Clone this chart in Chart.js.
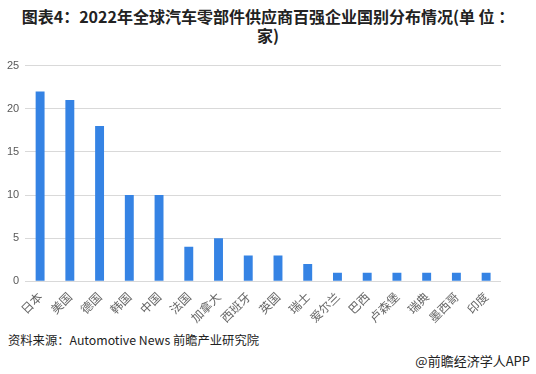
<!DOCTYPE html>
<html>
<head>
<meta charset="utf-8">
<script src="https://cdn.jsdelivr.net/npm/chart.js@4.4.1/dist/chart.umd.min.js"></script>
<style>
  body { margin: 0; background: #fff; font-family: "Noto Sans CJK SC", "Liberation Sans", sans-serif; }
  #wrap { position: relative; width: 536px; height: 374px; }
  #title { position: absolute; left: 0; top: 7px; width: 536px; text-align: center; font-size: 16px; font-weight: bold; line-height: 19px; color: #222; }
  #chartBox { position: absolute; left: 1px; top: 53px; width: 500px; height: 272px; }
  #source { position: absolute; left: 8px; top: 331px; font-size: 12.3px; color: #222; }
  #brand { position: absolute; right: 6px; top: 351px; font-size: 13px; color: #222; }
</style>
</head>
<body>
<div id="wrap">
  <div id="title">图表4：2022年全球汽车零部件供应商百强企业国别分布情况(单 位 ：<br>家)</div>
  <div id="chartBox"><canvas id="barChart"></canvas></div>
  <div id="source">资料来源：Automotive News 前瞻产业研究院</div>
  <div id="brand">@前瞻经济学人APP</div>
</div>
<script>
const countries = ['日本', '美国', '德国', '韩国', '中国', '法国', '加拿大', '西班牙', '英国', '瑞士', '爱尔兰', '巴西', '卢森堡', '瑞典', '墨西哥', '印度'];
const companyCounts = [22, 21, 18, 10, 10, 4, 5, 3, 3, 2, 1, 1, 1, 1, 1, 1];
const yTicks = [0, 5, 10, 15, 20, 25];

document.addEventListener('DOMContentLoaded', () => {
    const ctx = document.getElementById('barChart');
    new Chart(ctx, {
        type: 'bar',
        data: {
            labels: countries,
            datasets: [{
                data: companyCounts,
                backgroundColor: '#3583e4',
                barPercentage: 0.3,
                categoryPercentage: 1
            }]
        },
        options: {
            responsive: true,
            maintainAspectRatio: false,
            animation: false,
            layout: { padding: { left: 0, top: 8 } },
            plugins: {
                legend: { display: false },
                tooltip: { enabled: false }
            },
            scales: {
                y: {
                    min: 0,
                    max: 25,
                    afterBuildTicks: axis => { axis.ticks = yTicks.map(v => ({ value: v })); },
                    grid: { color: '#d9d9d9', drawTicks: false },
                    border: { display: false },
                    ticks: { color: '#595959', font: { size: 11, family: 'Liberation Sans' }, padding: 6 }
                },
                x: {
                    grid: { display: false },
                    border: { color: '#d9d9d9' },
                    ticks: { color: '#666666', font: { size: 12, family: 'Noto Sans CJK SC' }, minRotation: 45, maxRotation: 45, padding: 0 }
                }
            }
        }
    });
});
</script>
</body>
</html>
